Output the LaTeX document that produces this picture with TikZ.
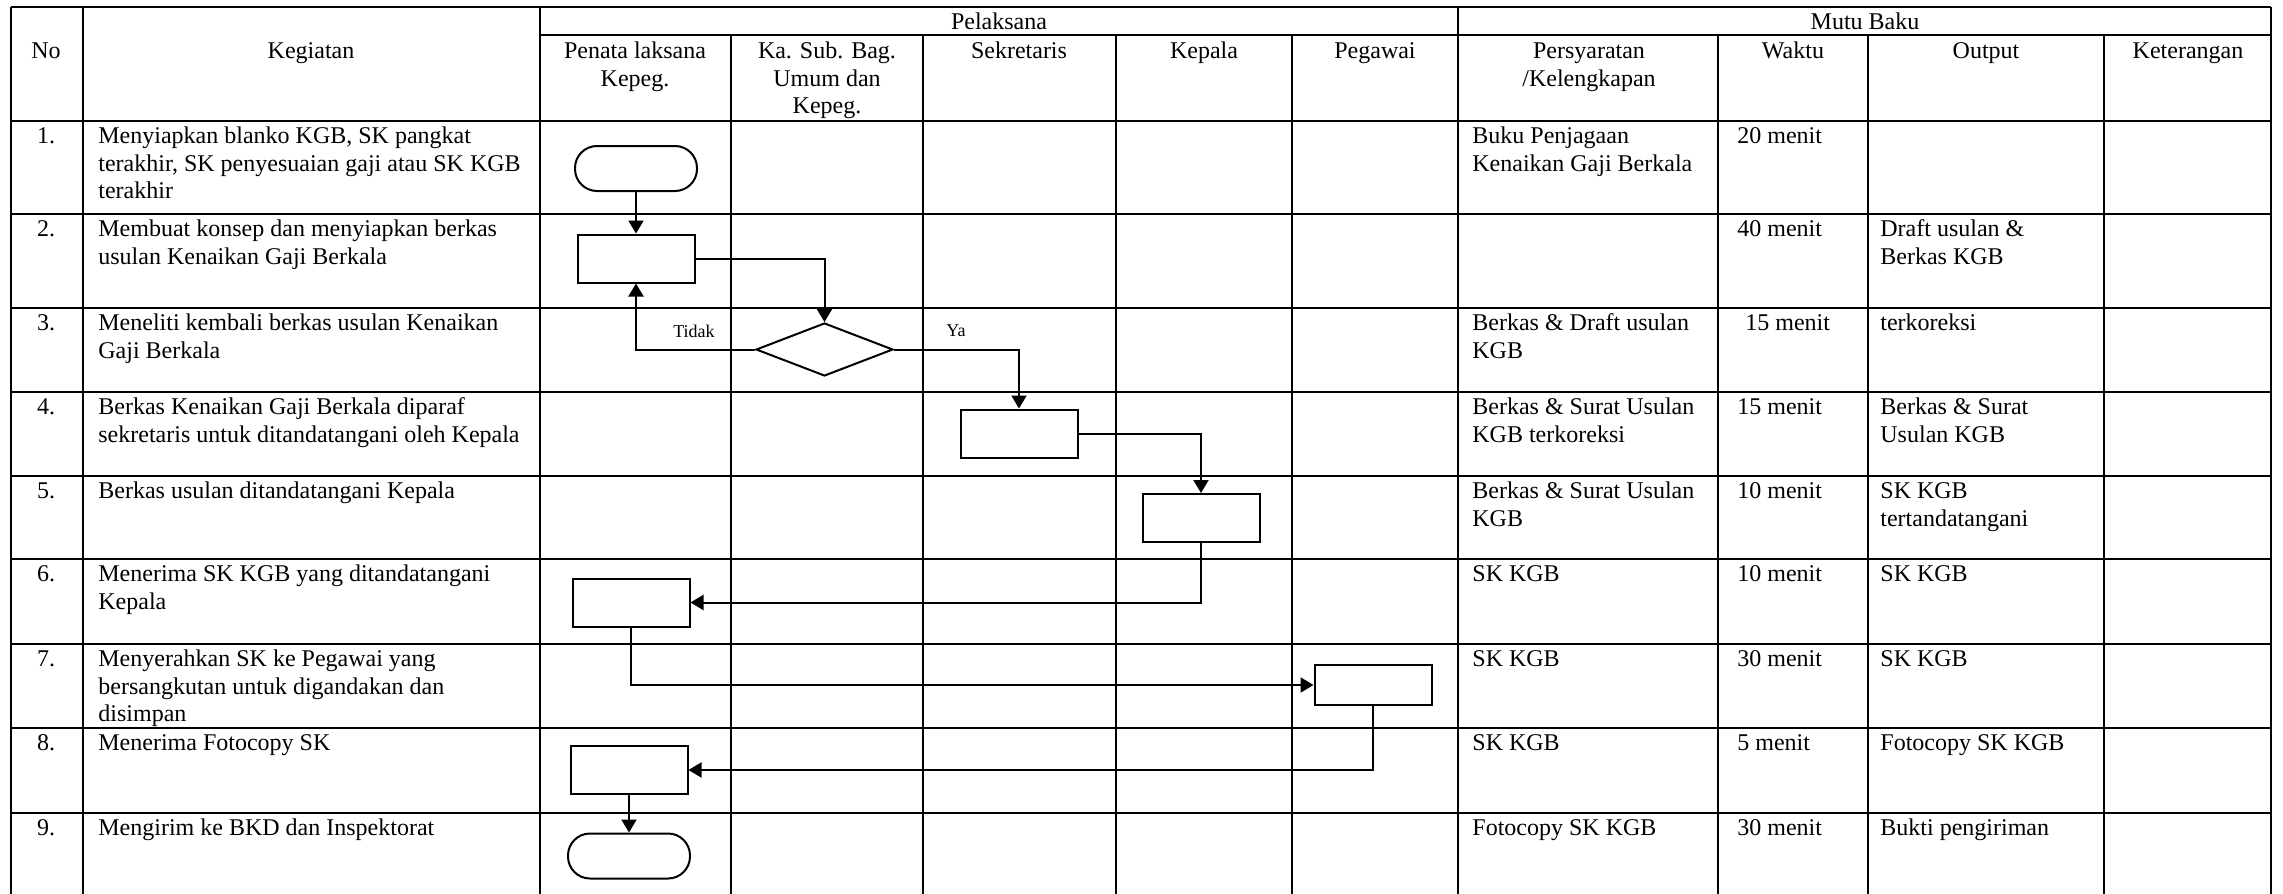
\documentclass[tikz,border=0pt]{standalone}
\usepackage{fontspec}
\setmainfont{Liberation Serif}
\usepackage{tikz}
\usetikzlibrary{shapes.geometric, arrows.meta, positioning}

\begin{document}
\begin{tikzpicture}[
    x=0.5pt, y=-0.5pt,
    font=\fontsize{12}{13.8}\selectfont,
    grid/.style={line width=0.9pt},
    head/.style={anchor=north, inner sep=0pt, align=center},
    cell/.style={anchor=north west, inner sep=0pt, align=left},
    num/.style={anchor=north, inner sep=0pt},
    terminal/.style={rectangle, draw, line width=1pt, rounded corners=11pt,
                     minimum width=61pt, minimum height=22.5pt},
    proc/.style={rectangle, draw, line width=1pt,
                 minimum width=58.5pt, minimum height=24pt},
    decision/.style={diamond, draw, line width=1pt, inner sep=0pt,
                     minimum width=68.5pt, minimum height=26.5pt},
    lbl/.style={font=\fontsize{9}{10}\selectfont, inner sep=0pt},
    arrow/.style={-{Triangle[length=6.5pt, width=7.5pt]}, line width=1pt}
]
    \useasboundingbox (0,0) rectangle (2283,894);

    % table grid
    \foreach \y in {7,121,214,308,392,476,559,644,728,813}
        \draw[grid] (11,\y) -- (2271,\y);
    \draw[grid] (540,35) -- (2271,35);
    \foreach \x in {11,83,540,1458,2271}
        \draw[grid] (\x,7) -- (\x,894);
    \foreach \x in {731,923,1116,1292,1718,1868,2104}
        \draw[grid] (\x,35) -- (\x,894);

    % header
    \node[head] (hno) at (46,39) {\strut No};
    \node[head] (hkeg) at (311,39) {\strut Kegiatan};
    \node[head] (hpel) at (999,10) {\strut Pelaksana};
    \node[head] (hmutu) at (1865,10) {\strut Mutu Baku};
    \node[head] (hpenata) at (635,39) {\strut Penata laksana\\Kepeg.};
    \node[head] (hkasub) at (827,39) {\strut Ka. Sub. Bag.\\Umum dan\\Kepeg.};
    \node[head] (hsek) at (1019,39) {\strut Sekretaris};
    \node[head] (hkep) at (1204,39) {\strut Kepala};
    \node[head] (hpeg) at (1375,39) {\strut Pegawai};
    \node[head] (hsyarat) at (1589,39) {\strut Persyaratan\\/Kelengkapan};
    \node[head] (hwaktu) at (1793,39) {\strut Waktu};
    \node[head] (hout) at (1986,39) {\strut Output};
    \node[head] (hket) at (2188,39) {\strut Keterangan};

    % nomor
    \foreach \n/\y in {1/121,2/214,3/308,4/392,5/476,6/559,7/644,8/728,9/813}
        \node[num] (no\n) at (46,\y+3) {\strut\n.};

    % kegiatan
    \node[cell] (keg1) at (98,124) {\strut Menyiapkan blanko KGB, SK pangkat\\terakhir, SK penyesuaian gaji atau SK KGB\\terakhir};
    \node[cell] (keg2) at (98,217) {\strut Membuat konsep dan menyiapkan berkas\\usulan Kenaikan Gaji Berkala};
    \node[cell] (keg3) at (98,311) {\strut Meneliti kembali berkas usulan Kenaikan\\Gaji Berkala};
    \node[cell] (keg4) at (98,395) {\strut Berkas Kenaikan Gaji Berkala diparaf\\sekretaris untuk ditandatangani oleh Kepala};
    \node[cell] (keg5) at (98,479) {\strut Berkas usulan ditandatangani Kepala};
    \node[cell] (keg6) at (98,562) {\strut Menerima SK KGB yang ditandatangani\\Kepala};
    \node[cell] (keg7) at (98,647) {\strut Menyerahkan SK ke Pegawai yang\\bersangkutan untuk digandakan dan\\disimpan};
    \node[cell] (keg8) at (98,731) {\strut Menerima Fotocopy SK};
    \node[cell] (keg9) at (98,816) {\strut Mengirim ke BKD dan Inspektorat};

    % persyaratan
    \node[cell] (syr1) at (1472,124) {\strut Buku Penjagaan\\Kenaikan Gaji Berkala};
    \node[cell] (syr3) at (1472,311) {\strut Berkas \& Draft usulan\\KGB};
    \node[cell] (syr4) at (1472,395) {\strut Berkas \& Surat Usulan\\KGB terkoreksi};
    \node[cell] (syr5) at (1472,479) {\strut Berkas \& Surat Usulan\\KGB};
    \node[cell] (syr6) at (1472,562) {\strut SK KGB};
    \node[cell] (syr7) at (1472,647) {\strut SK KGB};
    \node[cell] (syr8) at (1472,731) {\strut SK KGB};
    \node[cell] (syr9) at (1472,816) {\strut Fotocopy SK KGB};

    % waktu
    \node[cell] (wkt1) at (1737,124) {\strut 20 menit};
    \node[cell] (wkt2) at (1737,217) {\strut 40 menit};
    \node[cell] (wkt3) at (1745,311) {\strut 15 menit};
    \node[cell] (wkt4) at (1737,395) {\strut 15 menit};
    \node[cell] (wkt5) at (1737,479) {\strut 10 menit};
    \node[cell] (wkt6) at (1737,562) {\strut 10 menit};
    \node[cell] (wkt7) at (1737,647) {\strut 30 menit};
    \node[cell] (wkt8) at (1737,731) {\strut 5 menit};
    \node[cell] (wkt9) at (1737,816) {\strut 30 menit};

    % output
    \node[cell] (out2) at (1880,217) {\strut Draft usulan \&\\Berkas KGB};
    \node[cell] (out3) at (1880,311) {\strut terkoreksi};
    \node[cell] (out4) at (1880,395) {\strut Berkas \& Surat\\Usulan KGB};
    \node[cell] (out5) at (1880,479) {\strut SK KGB\\tertandatangani};
    \node[cell] (out6) at (1880,562) {\strut SK KGB};
    \node[cell] (out7) at (1880,647) {\strut SK KGB};
    \node[cell] (out8) at (1880,731) {\strut Fotocopy SK KGB};
    \node[cell] (out9) at (1880,816) {\strut Bukti pengiriman};

    % flowchart
    \node[terminal] (start) at (636,168.5) {};
    \node[proc] (konsep) at (636,258.5) {};
    \node[decision] (teliti) at (824.5,349.5) {};
    \node[proc] (paraf) at (1019,433.5) {};
    \node[proc] (ttd) at (1201,518) {};
    \node[proc] (terima) at (631,602.5) {};
    \node[proc, minimum height=20pt] (serah) at (1373,685) {};
    \node[proc] (fotocopy) at (629,770) {};
    \node[terminal] (kirim) at (629,856) {};

    \node[lbl] (tidak) at (694,331) {Tidak};
    \node[lbl] (ya) at (956,331) {Ya};

    \draw[arrow] (start) -- (konsep);
    \draw[arrow] (konsep.east) -| (teliti.north);
    \draw[arrow] (teliti.west) -| (konsep.south);
    \draw[arrow] (teliti.east) -| (paraf.north);
    \draw[arrow] (paraf.east) -| (ttd.north);
    \draw[arrow] (ttd.south) |- (terima.east);
    \draw[arrow] (terima.south) |- (serah.west);
    \draw[arrow] (serah.south) |- (fotocopy.east);
    \draw[arrow] (fotocopy) -- (kirim);
\end{tikzpicture}
\end{document}
